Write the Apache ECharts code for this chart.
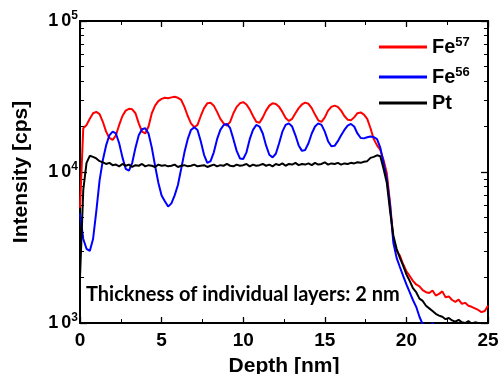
<!DOCTYPE html>
<html>
<head>
<meta charset="utf-8">
<script src="https://cdn.jsdelivr.net/npm/echarts@6/dist/echarts.min.js"></script>
<style>
html,body{margin:0;padding:0;background:#fff;}
#c{width:500px;height:374px;}
</style>
</head>
<body>
<div id="c"></div>
<script>
// sampling grid: depth in nm, every 0.2 nm from 0 to 25
const depth = [];
for (let i = 0; i <= 125; i++) depth.push(+(i * 0.2).toFixed(1));

const seriesNames = ['Fe57', 'Fe56', 'Pt'];
const seriesColors = ['#ff0000', '#0000ff', '#000000'];

const fe57 = [
  5800, 19500, 20500, 22500, 24500, 25000, 24200, 21500, 18500, 16800,
  16300, 17500, 20500, 23500, 25500, 26200, 26000, 24500, 21000, 18500,
  18000, 20000, 24500, 27500, 29500, 30500, 31000, 30800, 31200, 31500,
  31000, 30000, 27000, 23500, 21000, 19800, 20500, 23500, 26500, 28500,
  28700, 27500, 25000, 22500, 21000, 20300, 21500, 24500, 27000, 28500,
  29000, 28000, 26000, 23500, 21500, 21200, 23000, 25500, 27500, 28500,
  28200, 27000, 25000, 22800, 21800, 22500, 24500, 26500, 28000, 28800,
  28300, 26500, 24000, 22000, 21500, 23000, 25500, 27000, 27500, 27000,
  25500, 23500, 22200, 22000, 23000, 24500, 24800, 24000, 22500, 19500,
  16500, 15000, 14000, 12000, 9800, 6200, 3600, 3000, 2800, 2450,
  2200, 2050, 1900, 1800, 1750, 1650, 1600, 1580, 1640, 1520,
  1560, 1620, 1480, 1500, 1420, 1380, 1430, 1340, 1360, 1300,
  1280, 1250, 1220, 1180, 1200, 1300
];
const fe56 = [
  5300, 3600, 3100, 3000, 3600, 5500, 8800, 12000, 15000, 17500,
  18500, 18000, 15500, 12500, 10500, 10200, 11500, 14500, 17500, 19200,
  19500, 18000, 14500, 11000, 8500, 7000, 6400, 5900, 6200, 7000,
  8200, 10500, 13500, 16500, 19000, 19800, 19000, 16000, 13000, 11500,
  11800, 13500, 16500, 19000, 20500, 20800, 19500, 16500, 13800, 12300,
  12200, 13500, 16500, 19000, 20500, 20000, 18000, 15000, 13000, 12500,
  13200, 15500, 18500, 20500, 21000, 20000, 17500, 15000, 13800, 14000,
  15500, 18000, 20000, 21000, 20500, 18500, 16000, 14800, 14900, 16000,
  17500, 19000, 20300, 20800, 20000, 18000, 16800, 16700, 17000, 17200,
  17000, 16500, 14500, 11500, 9000, 6000, 3400, 2700, 2350, 2050,
  1800, 1600, 1420, 1280, 1100, 980, 950, 900, 1000, 870,
  820, 800, 780, 800, 790, 780, 800, 790, 780, 790,
  780, 790, 780, 800, 790, 780
];
const pt = [
  2000, 7600, 11500, 12800, 12600, 12300, 11800, 11600, 11300, 11500,
  11100, 11200, 10900, 11300, 11000, 11200, 10800, 11100, 11000, 11300,
  10900, 11100, 11000, 10800, 11200, 11000, 11100, 10900, 11000, 11200,
  10800, 11000, 11100, 10900, 11000, 11200, 10900, 11000, 11100, 10800,
  11000, 11200, 10900, 11100, 11000, 11300, 11000, 10900, 11200, 11000,
  11100, 11300, 10900, 11200, 11000, 11100, 11300, 11000, 11200, 10900,
  11300, 11100, 11400, 11000, 11300, 11200, 11500, 11100, 11300, 11200,
  11400, 11100, 11500, 11200, 11300, 11600, 11200, 11400, 11300, 11500,
  11200, 11400, 11300, 11500, 11400, 11600, 11500, 11700, 11800, 12400,
  12600, 12900, 12700, 10500, 8500, 5500, 3800, 3100, 2700, 2400,
  2100, 1900, 1700, 1600, 1450, 1400, 1300, 1250, 1200, 1150,
  1120, 1100, 1060, 1080, 1040, 1020, 1050, 1010, 1000, 1030,
  990, 1010, 1000, 980, 1000, 990
];

const xTicks = [0, 5, 10, 15, 20, 25];
const yMajor = [1000, 10000, 100000];
const yMinor = [2000, 3000, 4000, 5000, 6000, 7000, 8000, 9000,
                20000, 30000, 40000, 50000, 60000, 70000, 80000, 90000];

const annotation = 'Thickness of individual layers: 2 nm';

const FONT = 'Liberation Sans, Arial, sans-serif';
const values = [fe57, fe56, pt];

function pairs(v) { return depth.map((d, i) => [d, v[i]]); }

const chart = echarts.init(document.getElementById('c'), null, {renderer: 'canvas'});

const axisLineStyle = {color: '#000', width: 2};

function yAx(pos, minor, labels) {
  return {
    type: 'log', logBase: 10, min: 1000, max: 100000, position: pos,
    axisLine: {show: !minor, onZero: false, lineStyle: axisLineStyle},
    axisTick: minor ? {show: true, inside: true, length: 4, lineStyle: {color: '#000', width: 1}, customValues: yMinor}
                    : {show: true, inside: true, length: 7, lineStyle: {color: '#000', width: 1.3}, customValues: yMajor},
    axisLabel: labels ? {
      show: true, margin: 2, customValues: yMajor,
      formatter: function (v) { return '{b|1}{c|0}{s|' + Math.round(Math.log10(v)) + '}'; },
      rich: {
        b: {fontFamily: FONT, fontWeight: 'bold', fontSize: 18, color: '#000', lineHeight: 22},
        c: {fontFamily: FONT, fontWeight: 'bold', fontSize: 18, color: '#000', lineHeight: 22, padding: [0, 0, 0, 3]},
        s: {fontFamily: FONT, fontWeight: 'bold', fontSize: 12, color: '#000', verticalAlign: 'top', lineHeight: 22, padding: [0, 0, 10, 0]}
      }
    } : {show: false},
    splitLine: {show: false},
    minorTick: {show: false},
    name: labels ? 'Intensity [cps]' : '',
    nameLocation: 'middle', nameGap: 48,
    nameTextStyle: {fontFamily: FONT, fontWeight: 'bold', fontSize: 21, color: '#000'}
  };
}

function xAx(pos, labels) {
  return {
    type: 'value', min: 0, max: 25, interval: 5, position: pos,
    axisLine: {show: true, onZero: false, lineStyle: axisLineStyle},
    axisTick: {show: true, inside: true, length: 6, lineStyle: {color: '#000', width: 1.3}},
    minorTick: {show: true, splitNumber: 2, length: 4, lineStyle: {color: '#000', width: 1}},
    axisLabel: labels ? {show: true, margin: 8, fontFamily: FONT, fontWeight: 'bold', fontSize: 19, color: '#000',
      formatter: function (v) { return xTicks.indexOf(v) >= 0 ? String(v) : ''; }} : {show: false},
    splitLine: {show: false},
    name: labels ? 'Depth [nm]' : '',
    nameLocation: 'middle', nameGap: 33,
    nameTextStyle: {fontFamily: FONT, fontWeight: 'bold', fontSize: 21, color: '#000'}
  };
}

const legendRich = {
  m: {fontFamily: FONT, fontWeight: 'bold', fontSize: 20, color: '#000', lineHeight: 22},
  s: {fontFamily: FONT, fontWeight: 'bold', fontSize: 13, color: '#000', verticalAlign: 'top', lineHeight: 22, padding: [0, 0, 12, 0]}
};
function legendFmt(name) {
  if (name === 'Pt') return '{m|Pt}';
  return '{m|Fe}{s|' + name.slice(2) + '}';
}
const legendTops = [36, 66, 93];

chart.setOption({
  animation: false,
  backgroundColor: '#fff',
  grid: {left: 80, right: 12, top: 21, bottom: 51, containLabel: false, outerBoundsMode: 'none'},
  title: {
    text: annotation, left: 86, top: 285, padding: 0,
    textStyle: {fontFamily: 'Lato, sans-serif', fontWeight: 'bold', fontSize: 20, color: '#000'}
  },
  legend: seriesNames.map((n, i) => ({
    data: [{name: n, icon: 'rect', itemStyle: {color: seriesColors[i]}}],
    left: 379, top: legendTops[i], orient: 'vertical', padding: 0,
    itemWidth: 48, itemHeight: 3, itemGap: 0,
    formatter: legendFmt, textStyle: {rich: legendRich}
  })),
  xAxis: [xAx('bottom', true), xAx('top', false)],
  yAxis: [yAx('left', false, true), yAx('left', true, false), yAx('right', false, false), yAx('right', true, false)],
  series: seriesNames.map((n, i) => ({
    name: n, type: 'line', xAxisIndex: 0, yAxisIndex: 0,
    data: pairs(values[i]), showSymbol: false, symbol: 'none', clip: true,
    lineStyle: {color: seriesColors[i], width: 2}, itemStyle: {color: seriesColors[i]},
    z: 2 + i
  }))
});
</script>
</body>
</html>
